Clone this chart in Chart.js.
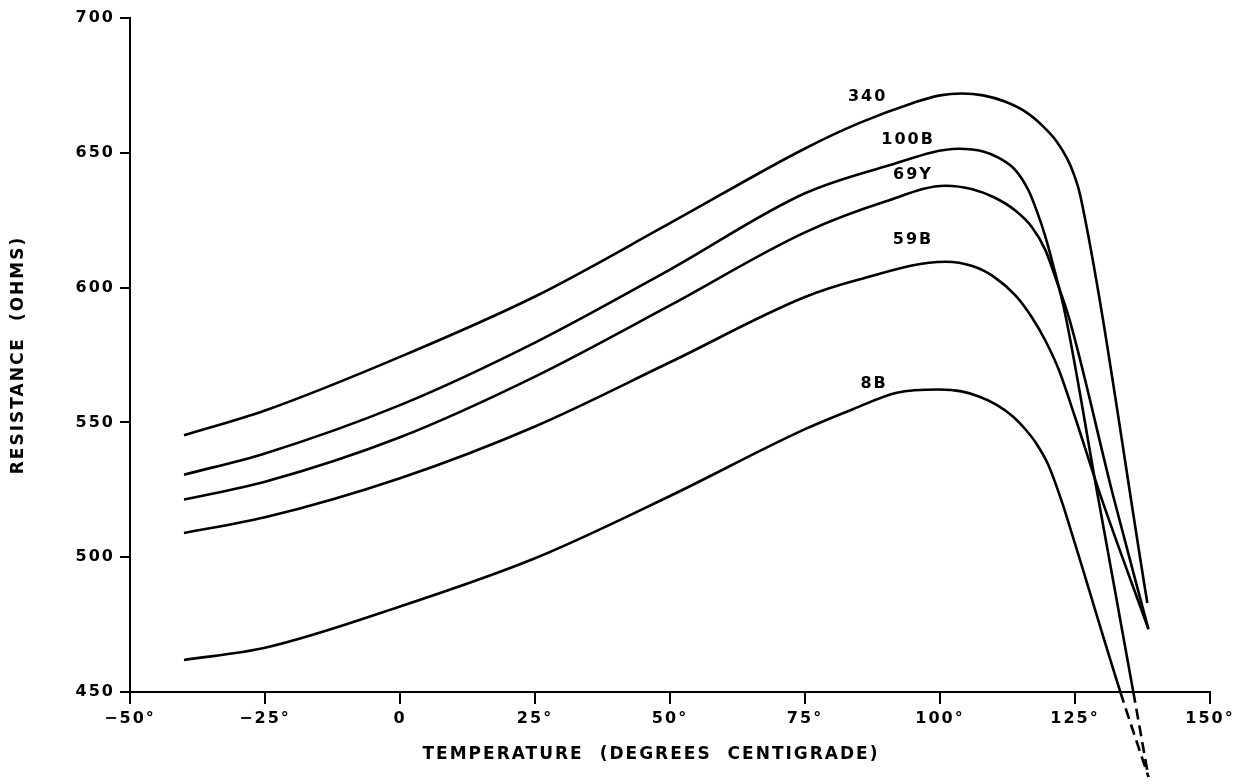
<!DOCTYPE html>
<html>
<head>
<meta charset="utf-8">
<title>Resistance vs Temperature</title>
<script src="https://cdn.jsdelivr.net/npm/chart.js@4.4.1/dist/chart.umd.min.js"></script>
<style>
  html, body { margin: 0; padding: 0; background: #fff; }
  #wrap { width: 1256px; height: 784px; position: relative; }
</style>
</head>
<body>
<div id="wrap"><canvas id="myChart"></canvas></div>
<script>
// values (temperature in deg C, resistance in ohms)
const temp340 = [-40, -25, 0, 25, 50, 75, 85, 95, 100, 104, 108, 112, 116, 119, 121.5, 123.5, 124.8, 126, 138.4];
const res340  = [545.2, 554.4, 574.3, 596.7, 623.9, 651.6, 661, 668.5, 671.3, 672, 671.3, 669, 665, 660, 654.5, 648, 642, 634, 483];

const temp100B = [-40, -25, 0, 25, 50, 75, 90, 103.5, 108, 111, 114, 116.4, 118, 119.5, 121, 123.2, 129.2, 135.8, 138.6];
const res100B  = [530.6, 538.5, 556.4, 579.6, 606.7, 635, 645, 651.5, 650.5, 648, 643.5, 636, 628, 619, 608, 590, 523, 450, 418.5];

const temp69Y = [-40, -25, 0, 25, 50, 75, 90, 101, 106, 110, 114, 117, 119.5, 121.5, 124, 132.1, 138.6];
const res69Y  = [521.4, 528, 544.5, 567, 593.4, 620.5, 632, 637.8, 636.5, 633.5, 628.5, 622.5, 614, 603, 588, 522.5, 473.3];

const temp59B = [-40, -25, 0, 25, 50, 75, 85, 101, 106, 110, 114, 117, 119.6, 122, 125, 129.7, 138.6];
const res59B  = [509, 514.8, 529.3, 548.5, 572.3, 596.5, 603, 609.6, 608, 604, 597, 589, 580, 569.5, 552, 523, 473.3];

const temp8B = [-40, -25, 0, 25, 50, 75, 84, 92, 99.8, 104, 107.2, 110.5, 113.5, 116, 117.7, 120, 122.5, 125, 133.4, 138.6];
const res8B  = [461.9, 466.4, 481.7, 499.6, 522.7, 547.5, 555, 561, 562.2, 561.5, 559.6, 556.5, 552.2, 547, 542.6, 534.5, 521, 505, 450, 418.5];

const curveNames = ['340', '100B', '69Y', '59B', '8B'];
// where each curve name is written (data coordinates)
const labelTemp = [86.6, 94.1, 95.0, 95.0, 87.8];
const labelRes  = [670.7, 654.8, 641.9, 617.8, 564.4];

const xTicks = [-50, -25, 0, 25, 50, 75, 100, 125, 150];
const xTickLabels = ['\u221250\u00b0', '\u221225\u00b0', '0', '25\u00b0', '50\u00b0', '75\u00b0', '100\u00b0', '125\u00b0', '150\u00b0'];
const yTicks = [450, 500, 550, 600, 650, 700];
const xTitle = 'TEMPERATURE (DEGREES CENTIGRADE)';
const yTitle = 'RESISTANCE (OHMS)';

const fuente = "'DejaVu Sans', sans-serif";

function puntos(t, r) {
  return t.map((v, i) => ({ x: v, y: r[i] }));
}

function curva(t, r) {
  return {
    data: puntos(t, r),
    borderColor: '#000',
    borderWidth: 2.6,
    pointRadius: 0,
    fill: false,
    cubicInterpolationMode: 'monotone',
    clip: false,
    segment: {
      // the part below the axis is drawn dashed
      borderDash: ctx => ctx.p1.parsed.y < 450 ? [11, 6] : undefined
    }
  };
}

const espaciado = {
  id: 'espaciado',
  beforeDraw(chart) {
    chart.ctx.letterSpacing = '2px';
    chart.ctx.wordSpacing = '8px';
  }
};

const etiquetas = {
  id: 'etiquetas',
  afterDatasetsDraw(chart) {
    const { ctx, scales: { x, y } } = chart;
    ctx.save();
    ctx.font = 'bold 16px ' + fuente;
    ctx.fillStyle = '#000';
    ctx.textAlign = 'center';
    ctx.textBaseline = 'middle';
    curveNames.forEach((n, i) => {
      ctx.fillText(n, x.getPixelForValue(labelTemp[i]), y.getPixelForValue(labelRes[i]));
    });
    // x axis title sits a bit left of the axis centre in the original
    ctx.font = 'bold 17px ' + fuente;
    ctx.fillText(xTitle, (chart.chartArea.left + chart.chartArea.right) / 2 - 19, chart.chartArea.bottom + 63);
    ctx.restore();
  }
};

const ctx = document.getElementById('myChart').getContext('2d');
const myChart = new Chart(ctx, {
  type: 'line',
  data: {
    datasets: [
      curva(temp340, res340),
      curva(temp100B, res100B),
      curva(temp69Y, res69Y),
      curva(temp59B, res59B),
      curva(temp8B, res8B)
    ]
  },
  options: {
    responsive: true,
    maintainAspectRatio: false,
    animation: false,
    events: [],
    layout: { padding: { top: 18, right: 46, left: 0, bottom: 0 } },
    plugins: {
      legend: { display: false },
      tooltip: { enabled: false }
    },
    scales: {
      x: {
        type: 'linear',
        min: -50,
        max: 150,
        afterBuildTicks: s => { s.ticks = xTicks.map(v => ({ value: v })); },
        afterFit: s => { s.height = 92; },
        grid: { display: true, drawOnChartArea: false, drawTicks: true, tickLength: 12, color: '#000', lineWidth: 2 },
        border: { display: true, color: '#000', width: 2 },
        ticks: {
          autoSkip: false,
          maxRotation: 0,
          padding: 5,
          color: '#000',
          font: { family: fuente, size: 16, weight: 'bold' },
          callback: (v, i) => xTickLabels[i]
        },
        title: { display: false }
      },
      y: {
        type: 'linear',
        min: 450,
        max: 700,
        afterBuildTicks: s => { s.ticks = yTicks.map(v => ({ value: v })); },
        afterFit: s => { s.width = 130; },
        grid: { display: true, drawOnChartArea: false, drawTicks: true, tickLength: 10, color: '#000', lineWidth: 2 },
        border: { display: true, color: '#000', width: 2 },
        ticks: {
          padding: 5,
          color: '#000',
          font: { family: fuente, size: 16, weight: 'bold' }
        },
        title: {
          display: true,
          text: yTitle,
          color: '#000',
          font: { family: fuente, size: 17, weight: 'bold' },
          padding: { top: 8, bottom: 0 }
        }
      }
    }
  },
  plugins: [espaciado, etiquetas]
});
</script>
</body>
</html>
